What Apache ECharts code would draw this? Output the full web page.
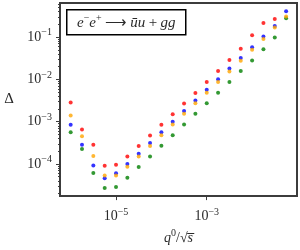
<!DOCTYPE html>
<html>
<head>
<meta charset="utf-8">
<script src="https://cdn.jsdelivr.net/npm/echarts@6/dist/echarts.min.js"></script>
<style>html,body{margin:0;padding:0;background:#fff;}#c{width:300px;height:250px;}</style>
</head>
<body>
<div id="c"></div>
<script>
// x positions (q0/sqrt(s))
const xVals = [1e-6, 1.778e-6, 3.162e-6, 5.623e-6, 1e-5, 1.778e-5, 3.162e-5, 5.623e-5,
  1e-4, 1.778e-4, 3.162e-4, 5.623e-4, 1e-3, 1.778e-3, 3.162e-3, 5.623e-3,
  1e-2, 1.778e-2, 3.162e-2, 5.623e-2];
const redVals = [2.82e-3, 6.52e-4, 2.83e-4, 9.0e-5, 9.5e-5, 1.50e-4, 2.64e-4, 4.72e-4,
  8.41e-4, 1.50e-3, 2.68e-3, 4.78e-3, 8.67e-3, 1.57e-2, 2.89e-2, 5.33e-2,
  0.111, 0.216, 0.269, null];
const blueVals = [8.41e-4, 2.83e-4, 9.22e-5, 4.58e-5, 6.0e-5, 1.0e-4, 1.75e-4, 3.14e-4,
  5.58e-4, 9.96e-4, 1.78e-3, 3.17e-3, 5.65e-3, 1.01e-2, 1.80e-2, 3.21e-2,
  5.73e-2, 0.104, 0.182, 0.411];
const orangeVals = [1.40e-3, 4.49e-4, 1.53e-4, 5.34e-5, 5.34e-5, 8.58e-5, 1.50e-4, 2.64e-4,
  4.80e-4, 8.53e-4, 1.53e-3, 2.72e-3, 4.84e-3, 8.67e-3, 1.54e-2, 2.75e-2,
  4.99e-2, 9.08e-2, 0.168, 0.309];
const greenVals = [5.58e-4, 2.26e-4, 6.12e-5, 2.70e-5, 2.85e-5, 4.74e-5, 8.45e-5, 1.50e-4,
  2.69e-4, 4.80e-4, 8.53e-4, 1.53e-3, 2.72e-3, 4.84e-3, 8.67e-3, 1.57e-2,
  2.81e-2, 5.18e-2, 9.85e-2, 0.279];

const xTicks = [1e-5, 1e-3];
const yTicks = [1e-4, 1e-3, 1e-2, 1e-1];
const yMinorTicks = [];
[1e-5, 1e-4, 1e-3, 1e-2, 1e-1].forEach(d => { for (let k = 2; k <= 9; k++) yMinorTicks.push(+(k * d).toPrecision(3)); });

const X_MIN = 5.82e-7, X_MAX = 0.0977;
const Y_MIN = 1.734e-5, Y_MAX = 0.641;

function pairs(ys) {
  const out = [];
  xVals.forEach((x, i) => { if (ys[i] != null) out.push([x, ys[i]]); });
  return out;
}
function powLabel(v) {
  const e = Math.round(Math.log10(v));
  return '{b|10}{s|' + (e < 0 ? '\u2212' : '') + Math.abs(e) + '}';
}
const serif = 'Liberation Serif';
const labelRich = {
  b: { fontFamily: serif, fontSize: 14, color: '#2a2a2a' },
  s: { fontFamily: serif, fontSize: 10, color: '#2a2a2a', padding: [0, 0, 9, 0] }
};

const chart = echarts.init(document.getElementById('c'), null, { renderer: 'canvas' });
chart.setOption({
  animation: false,
  grid: { left: 60, right: 3, top: 3, bottom: 41, show: true, borderColor: '#3c3c3c', borderWidth: 2, backgroundColor: 'transparent' },
  xAxis: {
    type: 'log', min: X_MIN, max: X_MAX,
    axisLine: { show: false },
    splitLine: { show: false },
    axisTick: { show: true, length: 4, lineStyle: { color: '#3c3c3c', width: 1 }, customValues: xTicks },
    axisLabel: { customValues: xTicks, formatter: powLabel, rich: labelRich, margin: 11 },
    name: '{i|q}{s|0}{n|/\u221A}{i|s\u0305}',
    nameLocation: 'middle', nameGap: 29,
    nameTextStyle: {
      rich: {
        i: { fontFamily: serif, fontStyle: 'italic', fontSize: 14, color: '#2a2a2a' },
        n: { fontFamily: serif, fontSize: 14, color: '#2a2a2a' },
        s: { fontFamily: serif, fontSize: 10, color: '#2a2a2a', padding: [0, 0, 9, 0] }
      }
    }
  },
  yAxis: [{
    type: 'log', min: Y_MIN, max: Y_MAX,
    axisLine: { show: false },
    splitLine: { show: false },
    axisTick: { show: true, length: 4, lineStyle: { color: '#3c3c3c', width: 1 }, customValues: yTicks },
    axisLabel: { customValues: yTicks, formatter: powLabel, rich: labelRich, margin: 8 },
    name: '\u0394', nameLocation: 'middle', nameRotate: 0, nameGap: 46,
    nameTextStyle: { fontFamily: serif, fontSize: 15, color: '#2a2a2a', padding: [0, 0, 16, 0] }
  }, {
    type: 'log', min: Y_MIN, max: Y_MAX, position: 'left',
    axisLine: { show: false },
    splitLine: { show: false },
    axisTick: { show: true, length: 2, lineStyle: { color: '#3c3c3c', width: 1 }, customValues: yMinorTicks },
    axisLabel: { show: false }
  }],
  graphic: [{
    type: 'group', left: 66, top: 9,
    children: [
      { type: 'rect', shape: { x: 0, y: 0, width: 119, height: 25 }, style: { fill: '#fff', stroke: '#000', lineWidth: 1.5 } },
      { type: 'text', x: 59.5, y: 13.5, style: {
        text: '{i|e}{s|\u2212}{i|e}{s|+} {n|\u27F6} {i|\u016Bu} {n|+} {i|gg}',
        align: 'center', verticalAlign: 'middle',
        rich: {
          i: { fontFamily: serif, fontStyle: 'italic', fontSize: 15, fill: '#2a2a2a' },
          n: { fontFamily: serif, fontSize: 15, fill: '#2a2a2a' },
          s: { fontFamily: serif, fontSize: 10, fill: '#2a2a2a', padding: [0, 0, 9, 0] }
        }
      } }
    ]
  }],
  series: [
    { type: 'scatter', name: 'red', data: pairs(redVals), symbolSize: 4, itemStyle: { color: '#ff0000' } },
    { type: 'scatter', name: 'green', data: pairs(greenVals), symbolSize: 4, itemStyle: { color: '#008000' } },
    { type: 'scatter', name: 'blue', data: pairs(blueVals), symbolSize: 4, itemStyle: { color: '#0000ff' } },
    { type: 'scatter', name: 'orange', data: pairs(orangeVals), symbolSize: 4, itemStyle: { color: '#ffa500' } }
  ]
});
</script>
</body>
</html>
